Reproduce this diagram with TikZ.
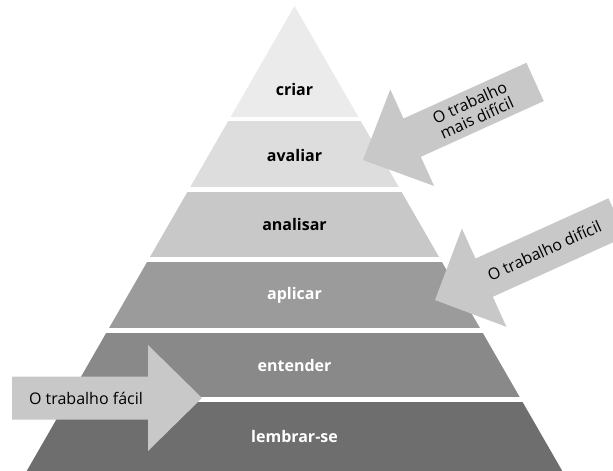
\documentclass[tikz,border=0pt]{standalone}
\usepackage{fontspec}
\setmainfont{Open Sans}
\definecolor{cA}{HTML}{EBEBEB}
\definecolor{cB}{HTML}{DDDDDD}
\definecolor{cC}{HTML}{C8C8C8}
\definecolor{cD}{HTML}{9B9B9B}
\definecolor{cE}{HTML}{898989}
\definecolor{cF}{HTML}{6E6E6E}
\definecolor{arrowgray}{HTML}{C8C8C8}
\tikzset{
  lvl/.style={font=\bfseries\fontsize{16}{18}\selectfont, inner sep=0pt},
  lvldark/.style={lvl, text=black},
  lvllight/.style={lvl, text=white},
  arrtext/.style={font=\fontsize{16}{17}\selectfont, text=black, inner sep=0pt, align=center},
  arrfill/.style={fill=arrowgray},
}
\begin{document}
\begin{tikzpicture}[x=1pt,y=-1pt]
\useasboundingbox (0,0) rectangle (613,471);
\clip (0,0) rectangle (613,471);
% pyramid bands
\begin{scope}
\clip (294.5,6) -- (562.3,471) -- (26.7,471) -- cycle;
\fill[cA] (0,0) rectangle (613,117);
\fill[cB] (0,121) rectangle (613,187);
\fill[cC] (0,192) rectangle (613,257);
\fill[cD] (0,262) rectangle (613,328);
\fill[cE] (0,333) rectangle (613,397);
\fill[cF] (0,402) rectangle (613,471);
\end{scope}
\node[lvldark]  (criar)    at (294.5,89)  {criar};
\node[lvldark]  (avaliar)  at (294.5,155) {avaliar};
\node[lvldark]  (analisar) at (294.5,224) {analisar};
\node[lvllight] (aplicar)  at (294.5,295) {aplicar};
\node[lvllight] (entender) at (294.5,365) {entender};
\node[lvllight] (lembrar)  at (294.5,436) {lembrar-se};
% upper right arrow
\begin{scope}[shift={(363,160)}, rotate=24.4]
\fill[arrfill] (0,0) -- (54,-53) -- (54,-21) -- (189,-21) -- (189,21) -- (54,21) -- (54,53) -- cycle;
\node[arrtext, transform shape] (maisdificil) at (121,0) {O trabalho\\mais difícil};
\end{scope}
% middle right arrow
\begin{scope}[shift={(435,300)}, rotate=24.4]
\fill[arrfill] (0,0) -- (54,-54) -- (54,-21) -- (200,-21) -- (200,21) -- (54,21) -- (54,54) -- cycle;
\node[arrtext, transform shape] (dificil) at (120,0) {O trabalho difícil};
\end{scope}
% left arrow
\fill[arrfill] (202,398) -- (148,345) -- (148,376.5) -- (12,376.5) -- (12,419.5) -- (148,419.5) -- (148,451) -- cycle;
\node[arrtext] (facil) at (86,398) {O trabalho fácil};
\end{tikzpicture}
\end{document}
